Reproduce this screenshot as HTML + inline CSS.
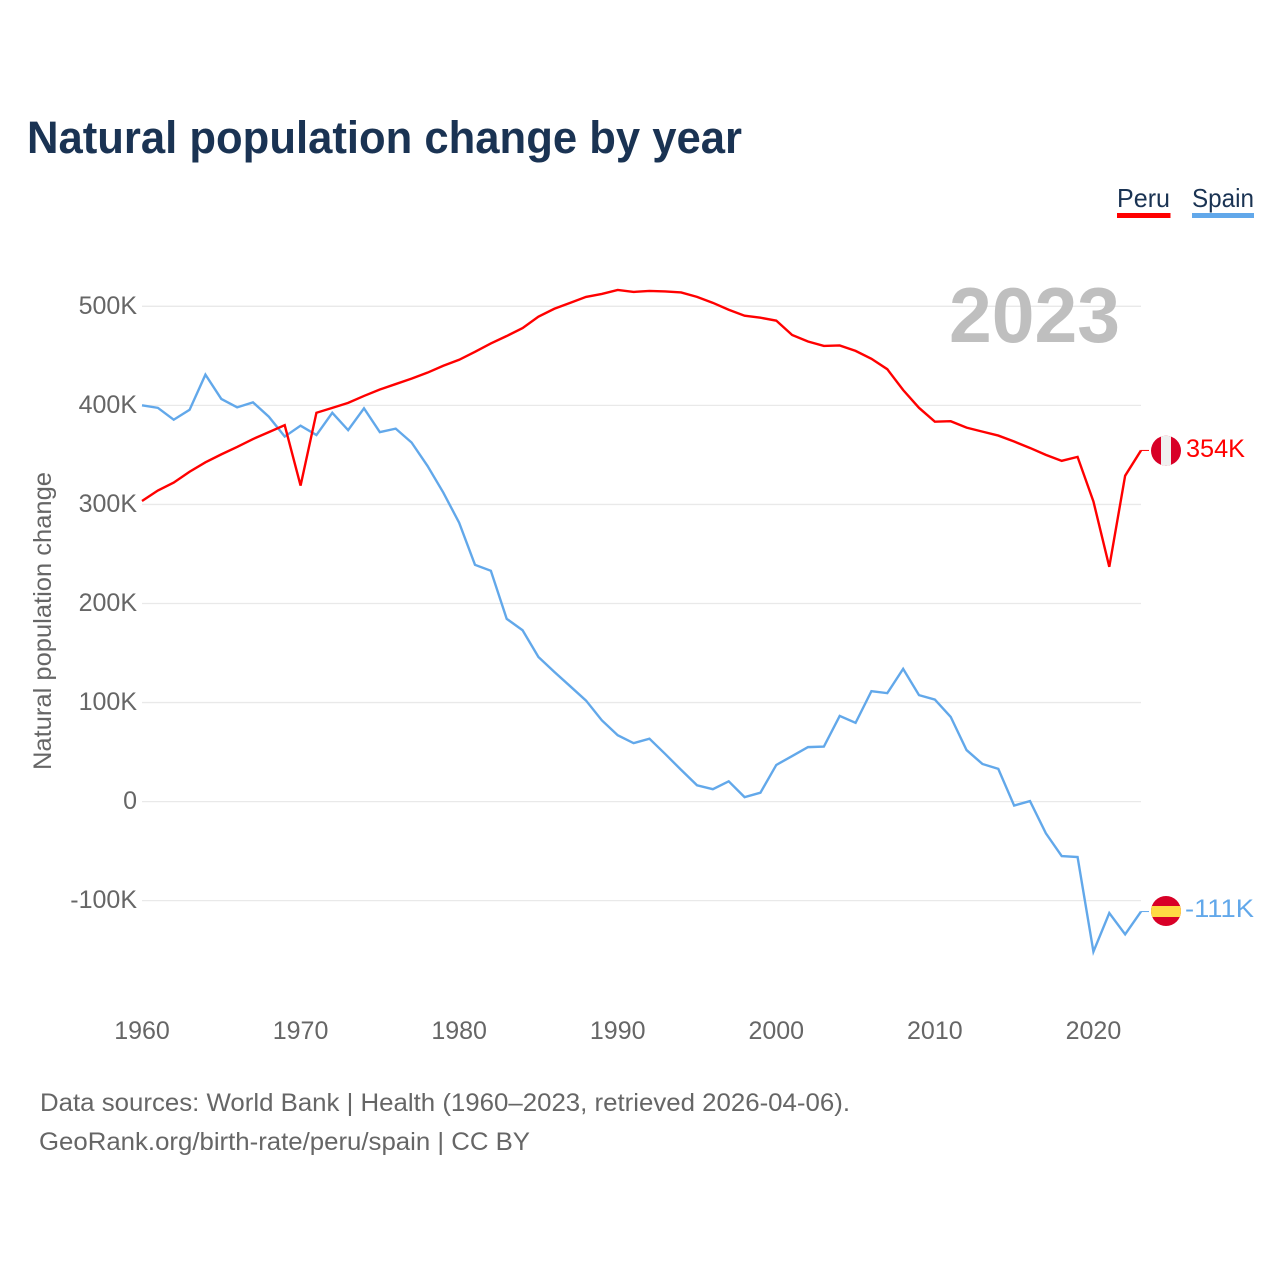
<!DOCTYPE html>
<html lang="en">
<head>
<meta charset="utf-8">
<title>Natural population change by year</title>
<style>
html,body{margin:0;padding:0;background:#fff;width:1280px;height:1280px;overflow:hidden}
svg{display:block}
text{font-family:"Liberation Sans",sans-serif}
</style>
</head>
<body>
<svg id="chart" xmlns="http://www.w3.org/2000/svg" width="1280" height="1280" viewBox="0 0 1280 1280">
  <rect x="0" y="0" width="1280" height="1280" fill="#ffffff"/>
  <text x="27" y="153" font-size="45" font-weight="700" fill="#1a3353" textLength="715" lengthAdjust="spacingAndGlyphs">Natural population change by year</text>

  <g>
    <g>
      <text x="1117" y="207" font-size="26" fill="#1a3353" textLength="53" lengthAdjust="spacingAndGlyphs">Peru</text>
      <rect x="1117" y="213" width="53.5" height="5" fill="#ff0000"/>
    </g>
    <g>
      <text x="1192" y="207" font-size="26" fill="#1a3353" textLength="62" lengthAdjust="spacingAndGlyphs">Spain</text>
      <rect x="1192" y="213" width="62" height="5" fill="#62a8ea"/>
    </g>
  </g>

  <g id="grid"></g>
  <g id="yticks"></g>
  <g id="xticks"></g>

  <text x="1120" y="342" text-anchor="end" font-size="78" font-weight="700" fill="#bfbfbf" textLength="171" lengthAdjust="spacingAndGlyphs">2023</text>

  <text transform="translate(51 770) rotate(-90)" x="0" y="0" font-size="25" fill="#666666" textLength="298" lengthAdjust="spacingAndGlyphs">Natural population change</text>

  <g id="series"></g>

  <g id="peru-flag">
    <clipPath id="peru-clip"><circle cx="1166" cy="450.7" r="15"/></clipPath>
    <g clip-path="url(#peru-clip)">
      <rect x="1151" y="435" width="30" height="31" fill="#d80027"/>
      <rect x="1161" y="435" width="10" height="31" fill="#f0f0f0"/>
    </g>
  </g>
  <g id="spain-flag">
    <clipPath id="spain-clip"><circle cx="1166" cy="911" r="15"/></clipPath>
    <g clip-path="url(#spain-clip)">
      <rect x="1151" y="896" width="30" height="31" fill="#d80027"/>
      <rect x="1151" y="906" width="30" height="11" fill="#ffda44"/>
    </g>
  </g>
  <text x="1186" y="457" font-size="25" fill="#ff0000" textLength="59" lengthAdjust="spacingAndGlyphs">354K</text>
  <text x="1185" y="917" font-size="25" fill="#62a8ea" textLength="69" lengthAdjust="spacingAndGlyphs">-111K</text>

  <text x="40" y="1111" font-size="25" fill="#666666" textLength="810" lengthAdjust="spacingAndGlyphs">Data sources: World Bank | Health (1960–2023, retrieved 2026-04-06).</text>
  <text x="39" y="1150" font-size="25" fill="#666666" textLength="491" lengthAdjust="spacingAndGlyphs">GeoRank.org/birth-rate/peru/spain | CC BY</text>
</svg>

<script>
const startYear = 1960;
const peruValues = [303.5,314,322,333,342.5,350.5,358,366,373,380,319,392.5,397.5,402.5,409.5,416,421.5,427,433,440,446,454,462.5,470,478,489.5,497.5,503.5,509.5,512.5,516.5,514.5,515.5,515,514,509.5,503.5,496.5,490.5,488.5,485.5,471,464.5,460,460.5,455,447,436.5,415.5,397.5,383.5,384,377.5,373.5,369.5,363.5,357,350,344,348,303,237,329,354.5];
const spainValues = [400,397.5,385.5,395.5,431,406.5,398,403,388.5,368.5,379.5,370,392.5,375,397,373,376.5,362.5,339,312,281.5,239,233,184.5,173,146,131,116.5,102,82,67,59,63.5,48,32,16.5,12.5,20.5,4.5,9,37,46,55,55.5,86.5,79.5,111.5,109.5,134,107.5,103,85.5,52,38,33,-4,0.5,-32,-55,-56,-151.5,-112.5,-134,-111];
const yTickValues = [-100,0,100,200,300,400,500];
const yTickLabels = ["-100K","0","100K","200K","300K","400K","500K"];
const xTickYears = [1960,1970,1980,1990,2000,2010,2020];

const NS = 'http://www.w3.org/2000/svg';
function xScale(year){ return 142 + (year - 1960) * (999 / 63); }
function yScale(v){ return 801.6 - v * 0.9906; }

const grid = document.getElementById('grid');
const yTicks = document.getElementById('yticks');
const xTicks = document.getElementById('xticks');
const seriesGroup = document.getElementById('series');

yTickValues.forEach(function(v, i){
  const line = document.createElementNS(NS, 'line');
  line.setAttribute('x1', 142);
  line.setAttribute('x2', 1141);
  line.setAttribute('y1', yScale(v));
  line.setAttribute('y2', yScale(v));
  line.setAttribute('stroke', '#e9e9e9');
  line.setAttribute('stroke-width', '1.3');
  
  
  grid.appendChild(line);

  const label = document.createElementNS(NS, 'text');
  label.setAttribute('x', 137);
  label.setAttribute('y', yScale(v) + 7.5);
  label.setAttribute('text-anchor', 'end');
  label.setAttribute('font-size', '25');
  label.setAttribute('fill', '#666666');
  label.textContent = yTickLabels[i];
  
  
  yTicks.appendChild(label);
});

xTickYears.forEach(function(year){
  const label = document.createElementNS(NS, 'text');
  label.setAttribute('x', xScale(year));
  label.setAttribute('y', 1039);
  label.setAttribute('text-anchor', 'middle');
  label.setAttribute('font-size', '25');
  label.setAttribute('fill', '#666666');
  label.textContent = String(year);
  
  
  xTicks.appendChild(label);
});

function linePath(values){
  return values.map(function(v, i){
    return (i ? 'L' : 'M') + xScale(startYear + i).toFixed(2) + ' ' + yScale(v).toFixed(2);
  }).join(' ');
}

function drawSeries(values, color, lineName, connectorName){
  const path = document.createElementNS(NS, 'path');
  path.setAttribute('d', linePath(values));
  path.setAttribute('fill', 'none');
  path.setAttribute('stroke', color);
  path.setAttribute('stroke-width', '2.4');
  path.setAttribute('stroke-linejoin', 'miter');
  
  
  seriesGroup.appendChild(path);

  const last = values[values.length - 1];
  const connector = document.createElementNS(NS, 'line');
  connector.setAttribute('x1', xScale(startYear + values.length - 1));
  connector.setAttribute('x2', 1149);
  connector.setAttribute('y1', yScale(last));
  connector.setAttribute('y2', yScale(last));
  connector.setAttribute('stroke', color);
  connector.setAttribute('stroke-width', '1');
  
  
  seriesGroup.appendChild(connector);
}

drawSeries(spainValues, '#62a8ea', 'spain-line', 'spain-label-connector');
drawSeries(peruValues, '#ff0000', 'peru-line', 'peru-label-connector');
</script>
</body>
</html>
